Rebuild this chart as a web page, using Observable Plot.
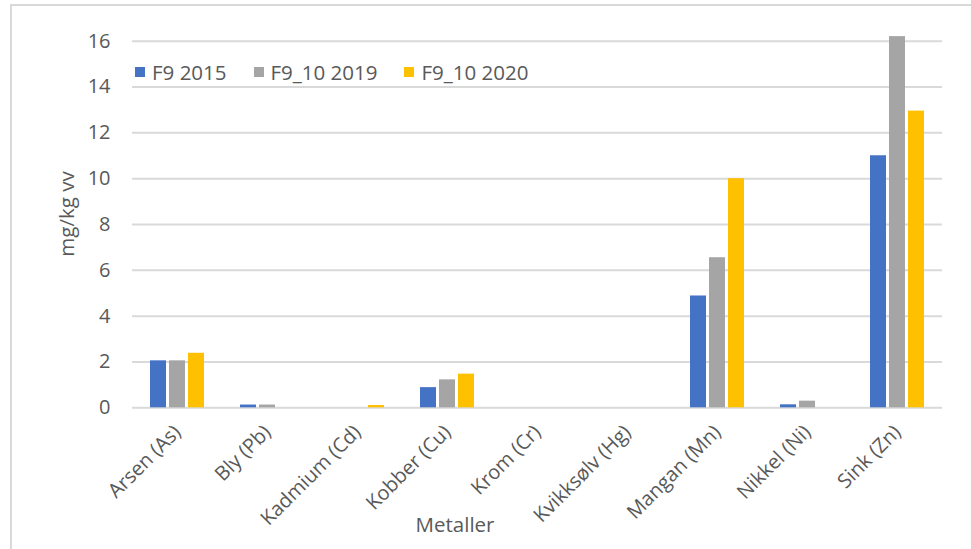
<!DOCTYPE html>
<html><head><meta charset="utf-8">
<script src="https://cdn.jsdelivr.net/npm/d3@7"></script>
<script src="https://cdn.jsdelivr.net/npm/@observablehq/plot@0.6"></script>
<style>
body{margin:0;background:#fff;font-family:"Open Sans",sans-serif;}
#wrap{position:relative;width:971px;height:549px;overflow:hidden;background:#fff;}
#frame{position:absolute;left:10px;top:4px;width:2000px;height:2000px;border-left:2px solid #d9d9d9;border-top:2px solid #d9d9d9;pointer-events:none;}
#legend{position:absolute;left:135px;top:58px;display:flex;font-size:20.5px;color:#595959;white-space:nowrap;}
#legend .item{display:flex;align-items:center;margin-right:27px;}
#legend .sw{width:10px;height:10px;margin-right:7px;}
#xlabel{position:absolute;left:455px;top:510px;transform:translateX(-50%);font-size:20.5px;color:#595959;}
#ylabel{position:absolute;left:66px;top:214px;transform:translate(-50%,-50%) rotate(-90deg);font-size:20.5px;color:#595959;white-space:nowrap;}
#chart{position:absolute;left:0;top:0;}
</style></head>
<body>
<div id="wrap"><div id="chart"></div><div id="frame"></div><div id="legend"></div><div id="xlabel"></div><div id="ylabel"></div></div>
<script>
const metals = ["Arsen (As)","Bly (Pb)","Kadmium (Cd)","Kobber (Cu)","Krom (Cr)","Kvikksølv (Hg)","Mangan (Mn)","Nikkel (Ni)","Sink (Zn)"];
const series = ["F9 2015","F9_10 2019","F9_10 2020"];
const f9_2015 = [2.05,0.12,0,0.88,0,0,4.88,0.13,11.0];
const f9_10_2019 = [2.05,0.12,0,1.22,0,0,6.55,0.29,16.2];
const f9_10_2020 = [2.38,0,0.1,1.47,0,0,10.0,0,12.95];
const yTicks = [0,2,4,6,8,10,12,14,16];
const colors = ["#4472C4","#A5A5A5","#FFC000"];
const xTitle = "Metaller";
const yTitle = "mg/kg vv";

const valuesBySeries = [f9_2015, f9_10_2019, f9_10_2020];
const data = [];
metals.forEach((m,i)=>series.forEach((s,j)=>data.push({metal:m, series:s, value:valuesBySeries[j][i]})));

const chart = Plot.plot({
  width:971, height:549,
  marginLeft:128, marginRight:26, marginTop:40.7, marginBottom:141.7,
  style:{fontFamily:"'Open Sans', sans-serif", fontSize:"20px", color:"#595959", background:"transparent", overflow:"visible"},
  fx:{domain:metals, padding:0, label:null},
  x:{domain:series, paddingInner:0.16, paddingOuter:0.88, axis:null},
  y:{domain:[0,16], axis:null},
  color:{domain:series, range:colors},
  marks:[
    Plot.gridY(yTicks,{stroke:"#d9d9d9", strokeOpacity:1, strokeWidth:2}),
    Plot.axisY(yTicks,{tickSize:0, tickPadding:22, label:null}),
    Plot.axisFx({anchor:"bottom", tickRotate:-45, tickSize:0, tickPadding:4, label:null, dx:0, dy:17}),
    Plot.barY(data,{fx:"metal", x:"series", y:"value", fill:"series"})
  ]
});
document.getElementById("chart").appendChild(chart);

const leg = document.getElementById("legend");
series.forEach((s,i)=>{
  const it = document.createElement("div"); it.className="item";
  const sw = document.createElement("div"); sw.className="sw"; sw.style.background=colors[i];
  const t = document.createElement("span"); t.textContent=s;
  it.appendChild(sw); it.appendChild(t); leg.appendChild(it);
});
document.getElementById("xlabel").textContent = xTitle;
document.getElementById("ylabel").textContent = yTitle;
</script>
</body></html>
